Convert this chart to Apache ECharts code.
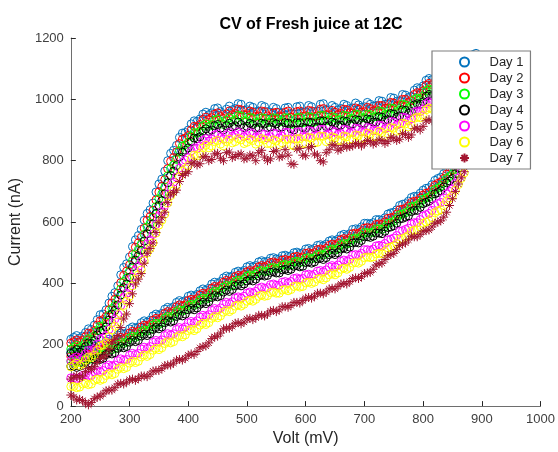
<!DOCTYPE html>
<html>
<head>
<meta charset="utf-8">
<script src="https://cdn.jsdelivr.net/npm/echarts@6/dist/echarts.min.js"></script>
<style>
html,body{margin:0;padding:0;background:#fff;}
#chart{width:558px;height:452px;}
</style>
</head>
<body>
<div id="chart"></div>
<script>
// Forward scan potentials (mV)
const voltsUp = [200,205,210,215,220,225,230,235,240,245,250,255,260,265,270,275,280,285,290,295,
300,305,310,315,320,325,330,335,340,345,350,355,360,365,370,375,380,385,390,395,
400,405,410,415,420,425,430,435,440,445,450,455,460,465,470,475,480,485,490,495,
500,505,510,515,520,525,530,535,540,545,550,555,560,565,570,575,580,585,590,595,
600,605,610,615,620,625,630,635,640,645,650,655,660,665,670,675,680,685,690,695,
700,705,710,715,720,725,730,735,740,745,750,755,760,765,770,775,780,785,790,795,
800,805,810,815,820,825,830,835,840,845,850,855,860,865,870,875,880,885,890];
// Reverse scan potentials (mV)
const voltsDown = [890,885,880,875,870,865,860,855,850,845,840,835,830,825,820,815,810,805,800,795,
790,785,780,775,770,765,760,755,750,745,740,735,730,725,720,715,710,705,700,695,
690,685,680,675,670,665,660,655,650,645,640,635,630,625,620,615,610,605,600,595,
590,585,580,575,570,565,560,555,550,545,540,535,530,525,520,515,510,505,500,495,
490,485,480,475,470,465,460,455,450,445,440,435,430,425,420,415,410,405,400,395,
390,385,380,375,370,365,360,355,350,345,340,335,330,325,320,315,310,305,300,295,
290,285,280,275,270,265,260,255,250,245,240,235,230,225,220,215,210,205,200];

// Current (nA), forward scan
const day1Up = [218,224,230,222,228,240,252,250,264,282,298,300,314,336,358,370,392,428,452,464,
486,520,542,556,576,606,628,640,662,698,724,740,766,800,824,834,850,876,890,892,
900,920,930,928,936,952,958,950,956,970,972,960,952,968,978,966,970,986,984,964,
966,978,974,960,962,980,976,960,958,974,970,958,956,972,974,954,952,976,978,958,
960,980,976,960,962,984,986,966,966,980,974,966,970,984,980,970,972,988,982,974,
976,990,984,978,980,996,994,984,986,1006,1004,994,996,1016,1014,1006,1010,1030,1038,1036,
1044,1062,1068,1064,1070,1086,1092,1086,1090,1108,1112,1106,1110,1126,1132,1124,1130,1146,1150];
const day2Up = [205,210,216,210,214,226,238,236,246,264,278,282,292,314,336,348,368,402,426,440,
460,494,518,532,550,580,606,618,638,672,698,716,738,774,798,810,828,856,870,874,
882,900,912,910,918,934,942,934,940,952,956,944,938,952,962,950,954,968,966,950,
950,962,958,944,946,962,960,946,940,956,958,944,944,958,962,942,938,960,962,944,
946,964,962,944,946,968,970,950,950,964,958,950,954,968,966,956,956,972,968,958,
960,974,970,962,966,980,980,970,972,990,988,978,982,1000,1000,990,996,1016,1022,1020,
1028,1046,1052,1048,1054,1070,1076,1070,1076,1094,1098,1090,1096,1112,1118,1110,1116,1132,1136];
const day3Up = [186,192,198,190,196,208,220,218,228,246,260,262,274,296,318,328,348,382,406,418,
440,474,496,510,528,560,584,596,616,650,676,692,714,750,774,786,804,832,848,852,
860,880,892,890,896,914,920,912,918,932,936,924,918,932,940,928,934,948,946,930,
930,942,938,924,926,940,938,924,926,940,938,926,928,940,940,920,918,940,942,924,
926,944,942,926,928,948,948,930,932,944,940,932,934,948,946,936,938,952,950,940,
940,952,950,942,944,962,960,950,952,972,970,960,964,984,982,972,978,1000,1004,1002,
1010,1028,1034,1030,1034,1052,1058,1052,1058,1076,1080,1072,1078,1094,1100,1092,1098,1114,1118];
const day4Up = [172,178,184,176,182,194,206,204,214,232,244,248,258,280,300,312,330,362,386,398,
420,454,476,490,508,538,562,576,594,628,654,670,692,728,752,766,784,812,828,834,
842,862,874,872,878,896,904,896,900,914,918,906,900,914,922,910,914,926,918,908,
912,922,918,906,908,922,920,908,910,924,920,908,910,924,922,904,900,924,924,908,
906,926,924,908,910,930,930,912,914,926,922,914,916,930,928,918,920,934,932,922,
922,936,934,926,926,944,942,932,934,954,952,942,946,966,964,954,960,982,986,984,
992,1010,1016,1012,1016,1034,1040,1034,1040,1058,1062,1054,1060,1076,1082,1074,1080,1096,1100];
const day5Up = [148,154,160,152,158,170,182,180,186,202,218,222,230,250,272,284,298,328,354,368,
386,420,442,456,474,502,528,542,560,592,618,634,654,690,714,730,746,776,794,802,
810,832,842,840,848,866,872,864,870,884,888,876,870,884,892,880,884,894,888,878,
882,892,888,876,878,888,886,874,878,890,888,874,880,892,892,872,870,894,894,878,
878,898,896,880,882,902,902,884,886,898,894,886,888,902,900,890,892,906,904,894,
894,908,906,898,898,916,914,904,908,928,926,916,920,942,940,930,936,958,962,960,
968,986,992,988,992,1010,1016,1010,1016,1034,1038,1030,1036,1052,1058,1050,1056,1072,1076];
const day6Up = [128,134,140,132,138,150,160,158,166,182,196,200,208,226,248,260,274,302,328,342,
358,392,414,428,444,474,500,514,532,564,590,606,626,662,686,702,718,748,766,774,
784,806,818,816,824,842,850,842,848,862,866,854,848,862,870,858,862,872,868,856,
860,870,866,854,860,872,868,856,856,868,864,852,858,870,870,852,848,872,872,856,
856,876,874,858,860,880,880,862,866,878,874,866,866,880,878,868,870,884,882,872,
874,890,886,878,878,896,892,882,888,908,906,896,900,922,920,910,916,938,942,940,
948,966,972,968,972,990,996,990,996,1014,1018,1010,1016,1032,1038,1030,1036,1052,1056];
const day7Up = [88,94,100,92,98,112,122,120,128,142,156,160,166,184,206,218,230,256,284,300,
334,366,398,414,432,466,498,514,532,566,598,614,632,664,688,696,704,732,752,758,
764,790,796,786,790,812,814,800,804,822,824,808,800,826,828,810,814,820,822,806,
808,818,816,800,826,834,812,800,806,830,832,812,814,836,818,790,788,838,840,818,
816,842,846,822,818,800,796,826,836,852,850,834,838,850,844,846,848,856,854,848,
856,866,862,854,858,868,866,856,862,876,874,866,870,888,886,876,884,904,906,900,
912,930,934,930,934,954,958,952,958,978,982,974,982,998,1004,996,1002,1022,1030];

// Current (nA), reverse scan
const day1Down = [1010,968,930,896,858,842,822,806,786,780,772,758,746,742,736,722,712,710,704,694,
684,684,680,668,660,658,654,640,632,630,626,614,606,608,608,598,594,596,596,584,
576,578,576,562,556,560,556,544,538,542,538,528,522,526,524,514,510,514,512,500,
498,502,500,490,488,492,490,480,480,484,482,472,470,474,470,458,454,458,454,442,
436,440,436,424,420,424,418,406,400,404,398,384,378,382,376,364,358,362,358,344,
340,344,338,324,318,322,316,302,296,300,294,280,274,278,272,258,254,258,252,238,
234,238,232,218,214,218,212,200,196,200,196,184,182,186,184,174,172,176,176];
const day2Down = [990,948,910,876,842,826,804,790,770,764,756,742,730,726,720,706,696,694,688,678,
668,668,664,652,644,642,640,626,616,614,612,600,592,594,592,582,580,582,580,568,
562,564,562,548,542,546,542,530,524,528,524,514,508,512,510,500,496,500,498,486,
484,488,486,476,474,478,476,466,466,470,468,458,454,458,454,444,438,442,438,428,
422,426,422,410,406,410,404,392,386,390,384,370,364,368,362,350,344,348,344,330,
326,330,324,310,304,308,302,288,282,286,280,266,260,264,258,244,240,244,238,224,
220,224,218,204,200,204,198,186,182,186,182,170,168,172,170,160,158,162,162];
const day3Down = [970,928,892,860,826,808,790,772,756,748,742,728,716,710,706,690,682,678,674,662,
654,652,650,636,630,626,624,610,602,598,596,584,576,578,578,568,564,566,566,554,
546,548,546,532,528,530,526,514,508,512,508,498,492,496,494,484,480,484,482,470,
468,472,470,460,458,462,460,450,448,452,450,440,438,442,440,430,424,428,424,414,
406,410,406,394,390,394,388,376,370,374,368,354,348,352,346,334,328,332,328,314,
310,314,308,294,288,292,286,272,266,270,264,250,244,248,242,228,224,228,222,208,
204,208,202,188,184,188,182,170,166,170,166,154,152,156,154,144,142,146,146];
const day4Down = [955,914,876,844,812,794,776,758,742,734,728,714,702,696,692,676,668,664,660,648,
638,638,634,620,616,612,610,596,588,584,582,570,562,564,564,554,550,552,552,540,
532,534,532,518,512,516,512,500,494,498,494,484,478,482,480,470,466,470,468,456,
454,458,456,446,442,446,444,434,434,438,436,426,424,428,424,414,408,412,408,398,
392,396,392,380,374,378,372,360,356,360,354,340,334,338,332,320,314,318,314,300,
294,298,292,278,274,278,272,258,252,256,250,236,230,234,228,214,210,214,208,194,
190,194,188,174,170,174,168,156,152,156,152,140,138,142,140,130,126,130,130];
const day5Down = [925,886,850,816,782,762,744,726,708,700,692,678,664,660,654,638,628,624,620,608,
598,598,594,580,576,572,570,556,548,544,542,530,522,524,522,512,508,510,510,498,
492,494,492,478,472,476,472,460,454,458,454,444,438,442,440,430,426,430,428,416,
414,418,416,406,402,406,404,394,394,398,396,386,384,388,384,374,368,372,368,358,
352,356,352,340,334,338,332,320,314,318,312,298,292,296,290,278,272,276,272,258,
252,256,250,236,232,236,230,216,210,214,208,194,188,192,186,172,168,172,166,152,
150,154,148,134,130,134,128,116,112,116,112,100,98,102,100,92,88,92,92];
const day6Down = [905,866,830,796,760,742,722,704,686,678,668,654,640,636,630,614,604,600,596,584,
574,574,570,556,550,546,544,530,522,518,516,504,496,498,496,486,484,486,484,472,
466,468,466,452,446,450,446,434,428,432,428,418,412,416,414,404,400,404,402,390,
388,392,390,380,376,380,378,368,368,372,370,360,358,362,358,348,342,346,342,332,
326,330,326,314,308,312,306,294,288,292,286,272,266,270,264,252,246,250,246,232,
226,230,224,210,206,210,204,190,184,188,182,168,162,166,160,146,142,146,140,126,
122,126,120,106,102,106,100,88,84,88,84,72,70,74,72,62,60,64,64];
const day7Down = [880,846,814,790,764,744,724,700,676,654,632,616,604,600,596,584,574,572,570,560,
552,552,554,542,532,528,524,510,498,494,490,478,466,464,460,446,436,434,432,422,
416,418,416,406,398,400,398,390,382,384,382,372,366,368,368,358,352,354,352,344,
336,338,338,328,322,324,324,314,308,312,310,300,294,296,296,288,282,286,284,274,
268,272,270,260,254,254,252,238,228,226,220,206,196,194,190,178,168,170,166,156,
150,152,150,140,134,134,132,122,116,116,114,104,96,98,98,90,84,88,86,78,
72,74,72,60,52,52,50,40,32,30,24,12,4,10,18,22,20,30,36];

const dayNames = ['Day 1','Day 2','Day 3','Day 4','Day 5','Day 6','Day 7'];
const xTicks = [200,300,400,500,600,700,800,900,1000];
const yTicks = [0,200,400,600,800,1000,1200];

const ups = [day1Up,day2Up,day3Up,day4Up,day5Up,day6Up,day7Up];
const downs = [day1Down,day2Down,day3Down,day4Down,day5Down,day6Down,day7Down];
const colors = ['#0072BD','#FF0000','#00FF00','#000000','#FF00FF','#FFFF00','#A2142F'];
const asterisk = 'path://M5,0 L5,10 M0,5 L10,5 M1.6,1.6 L8.4,8.4 M1.6,8.4 L8.4,1.6';

function pairs(i){
  const d = [];
  voltsUp.forEach((v,k)=>{ if (ups[i][k] !== undefined) d.push([v, ups[i][k]]); });
  voltsDown.forEach((v,k)=>{ if (downs[i][k] !== undefined) d.push([v, downs[i][k]]); });
  return d;
}

const series = dayNames.map((name,i)=>({
  name: name,
  type: 'scatter',
  data: pairs(i),
  symbol: i===6 ? asterisk : 'circle',
  symbolSize: i===6 ? 9 : 8,
  itemStyle: {color: 'rgba(0,0,0,0)', borderColor: colors[i], borderWidth: 1, opacity: 1},
  emphasis: {disabled: true},
  silent: true,
  large: false
}));

const chart = echarts.init(document.getElementById('chart'), null, {renderer:'canvas'});
chart.setOption({
  animation: false,
  backgroundColor: '#fff',
  title: {
    text: 'CV of Fresh juice at 12C',
    left: 306, top: 12, textAlign: 'center',
    textStyle: {fontFamily: 'Liberation Sans, Arial, sans-serif', fontSize: 16, fontWeight: 'bold', color: '#000'}
  },
  grid: {left: 70, right: 15, top: 38, bottom: 42, containLabel: false},
  legend: {
    orient: 'vertical',
    left: 432, top: 51,
    data: dayNames,
    itemWidth: 40, itemHeight: 9, itemGap: 2,
    padding: [4, 7, 4, 27],
    backgroundColor: '#fff',
    borderColor: '#7f7f7f', borderWidth: 1.2,
    textStyle: {fontFamily: 'Liberation Sans, Arial, sans-serif', fontSize: 13, color: '#262626', lineHeight: 14},
    selectedMode: false
  },
  xAxis: {
    type: 'value', min: 200, max: 1000, interval: 100,
    name: 'Volt (mV)', nameLocation: 'middle', nameGap: 24,
    nameTextStyle: {fontFamily: 'Liberation Sans, Arial, sans-serif', fontSize: 16, color: '#262626'},
    axisLine: {show: true, lineStyle: {color: '#6e6e6e', width: 1}},
    axisTick: {show: true, inside: true, length: 5, lineStyle: {color: '#262626'}},
    axisLabel: {fontFamily: 'Liberation Sans, Arial, sans-serif', fontSize: 13, color: '#404040', margin: 7,
      formatter: v => xTicks.includes(v) ? String(v) : ''},
    splitLine: {show: false}
  },
  yAxis: {
    type: 'value', min: 0, max: 1200, interval: 200,
    name: 'Current (nA)', nameLocation: 'middle', nameGap: 40,
    nameTextStyle: {fontFamily: 'Liberation Sans, Arial, sans-serif', fontSize: 16, color: '#262626'},
    axisLine: {show: true, lineStyle: {color: '#6e6e6e', width: 1}},
    axisTick: {show: true, inside: true, length: 5, lineStyle: {color: '#262626'}},
    axisLabel: {fontFamily: 'Liberation Sans, Arial, sans-serif', fontSize: 13, color: '#404040', margin: 7,
      formatter: v => yTicks.includes(v) ? String(v) : ''},
    splitLine: {show: false}
  },
  series: series
});
</script>
</body>
</html>
